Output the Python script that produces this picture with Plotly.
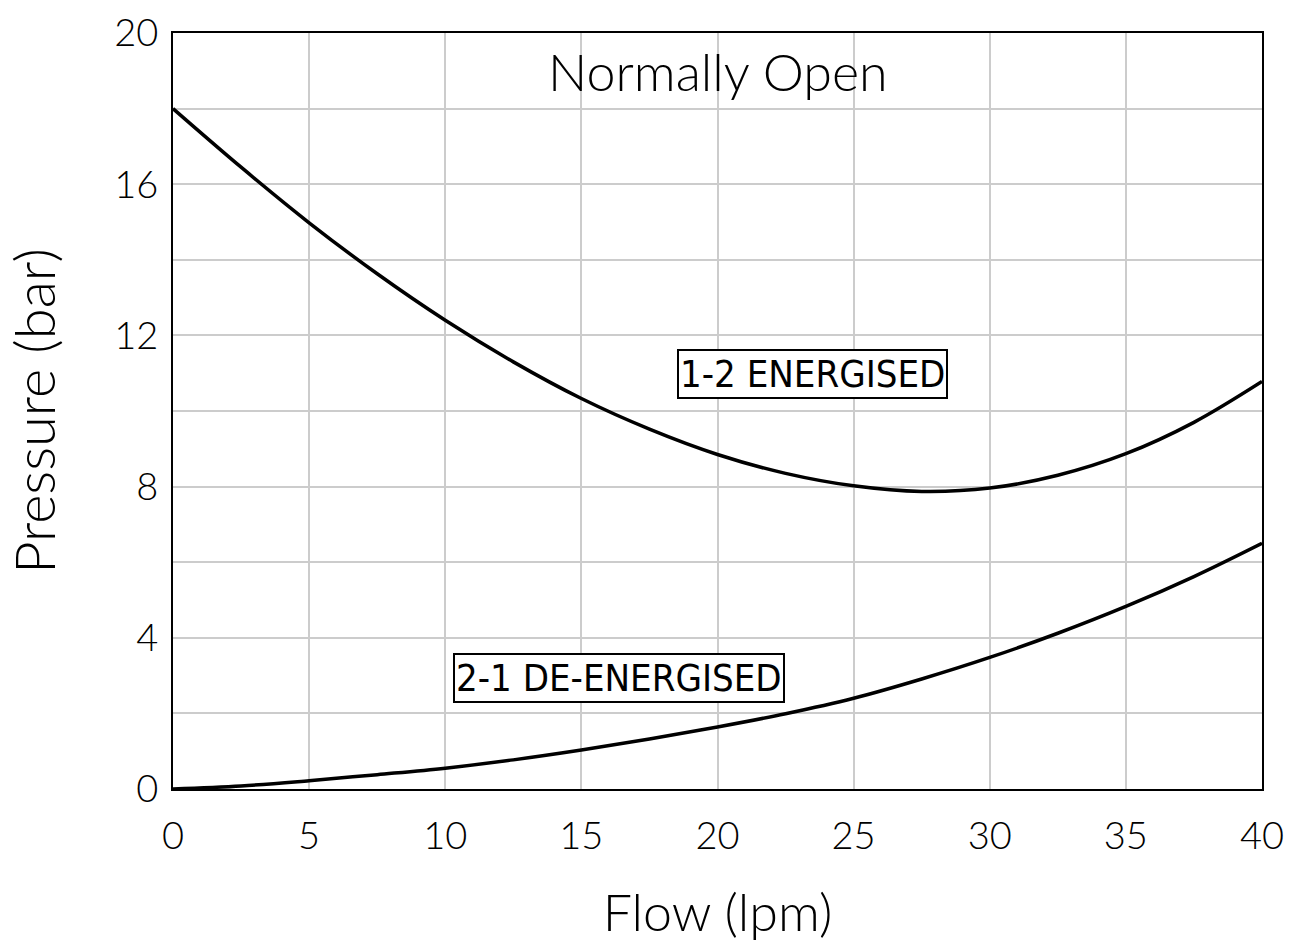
import plotly.graph_objects as go

flow = [0, 2.5, 5, 7.5, 10, 12.5, 15, 17.5, 20, 22.5, 25, 27.5, 30, 32.5, 35, 37.5, 40]
energised = [18.0, 16.45, 14.98, 13.63, 12.4, 11.3, 10.33, 9.52, 8.85, 8.35, 8.02, 7.87, 7.96, 8.3, 8.87, 9.7, 10.78]
de_energised = [0.0, 0.08, 0.22, 0.38, 0.55, 0.77, 1.03, 1.32, 1.64, 1.99, 2.4, 2.91, 3.48, 4.12, 4.83, 5.62, 6.5]

x_ticks = [0, 5, 10, 15, 20, 25, 30, 35, 40]
x_labels = ["0", "5", "10", "15", "20", "25", "30", "35", "40"]
y_ticks = [0, 4, 8, 12, 16, 20]
y_labels = ["0", "4", "8", "12", "16", "20"]
y_minor = [2, 6, 10, 14, 18]

title_text = "Normally Open"
label_1 = "1-2 ENERGISED"
label_2 = "2-1 DE-ENERGISED"

FONT = "Lato"
NARROW = "DejaVu Sans Condensed, Liberation Sans Narrow, Roboto"

fig = go.Figure()
for ys in (energised, de_energised):
    fig.add_trace(go.Scatter(x=flow, y=ys, mode="lines",
                             line=dict(color="black", width=3.5, shape="spline", smoothing=1),
                             showlegend=False, hoverinfo="skip"))

fig.update_layout(
    width=1291, height=944,
    margin=dict(l=173, r=29, t=33, b=155, autoexpand=False),
    paper_bgcolor="white", plot_bgcolor="white",
    font=dict(family=FONT, color="black", size=38, weight=300),
    xaxis=dict(range=[0, 40], tickvals=x_ticks, ticktext=x_labels, showgrid=True, automargin=False,
               gridcolor="#cccccc", gridwidth=2, showline=True, linecolor="black", linewidth=2,
               mirror=True, ticks="", zeroline=False, ticklabelstandoff=12,
               title=dict(text="Flow (lpm)", font=dict(size=52, weight=300), standoff=39)),
    yaxis=dict(range=[0, 20], tickvals=y_ticks, ticktext=y_labels, showgrid=True, automargin=False,
               gridcolor="#cccccc", gridwidth=2, showline=True, linecolor="black", linewidth=2,
               mirror=True, ticks="", zeroline=False, ticklabelstandoff=5,
               minor=dict(tickvals=y_minor, showgrid=True, gridcolor="#cccccc", gridwidth=2, ticks=""),
               title=dict(text="Pressure (bar)", font=dict(size=56, weight=300), standoff=43)),
)

fig.add_annotation(x=20, y=19.0, xref="x", yref="y", text=title_text, showarrow=False,
                   font=dict(family=FONT, size=52, color="black", weight=300))
fig.add_annotation(x=23.5, y=10.98, xref="x", yref="y", text=label_1, showarrow=False,
                   font=dict(family=NARROW, size=38, color="black", weight=300),
                   bordercolor="black", borderwidth=2, borderpad=1, bgcolor="white")
fig.add_annotation(x=16.4, y=2.94, xref="x", yref="y", text=label_2, showarrow=False,
                   font=dict(family=NARROW, size=38, color="black", weight=300),
                   bordercolor="black", borderwidth=2, borderpad=1, bgcolor="white")

fig.write_html("out.html", config={"displayModeBar": False},
               post_script="document.body.style.margin='0';document.body.style.padding='0';")
